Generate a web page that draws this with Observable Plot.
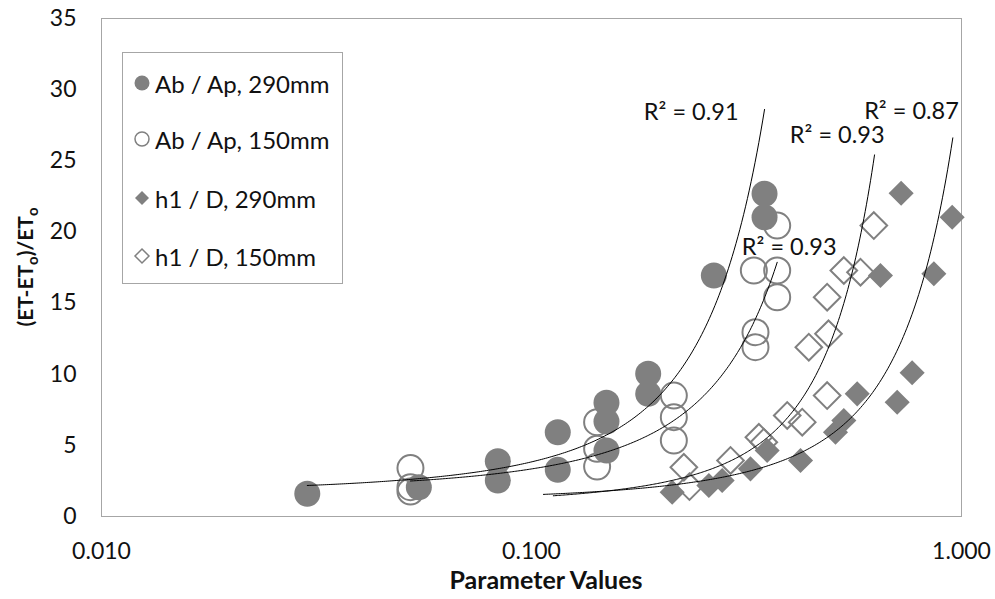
<!DOCTYPE html>
<html><head><meta charset="utf-8">
<script src="https://cdn.jsdelivr.net/npm/d3@7"></script>
<script src="https://cdn.jsdelivr.net/npm/@observablehq/plot@0.6"></script>
<style>
body{margin:0;background:#fff;font-family:Lato,sans-serif;}
#wrap{position:relative;width:995px;height:599px;overflow:hidden;}
#legend{position:absolute;left:122px;top:52px;width:221px;height:232px;border:1px solid #a6a6a6;background:#fff;box-sizing:border-box;}
.item{position:absolute;left:9px;height:30px;display:flex;align-items:center;font-size:24px;color:#111;white-space:nowrap;}
.item svg{margin-right:3px;}
</style></head><body><div id="wrap"></div>
<script>
const xTicks = [0.01, 0.1, 1];
const yTicks = [0, 5, 10, 15, 20, 25, 30, 35];
const seriesNames = ["Ab / Ap, 290mm", "Ab / Ap, 150mm", "h1 / D, 290mm", "h1 / D, 150mm"];

const abAp290X = [0.0301, 0.0547, 0.0835, 0.0835, 0.1151, 0.1151, 0.1494, 0.1494, 0.1494, 0.1868, 0.1868, 0.2655, 0.3483, 0.3483];
const abAp290Y = [1.60, 2.06, 3.89, 2.53, 5.92, 3.28, 7.99, 6.68, 4.64, 10.03, 8.62, 16.94, 22.68, 21.03];

const abAp150X = [0.0523, 0.0523, 0.0523, 0.1421, 0.1421, 0.1421, 0.2143, 0.2143, 0.2143, 0.3289, 0.3318, 0.3318, 0.3727, 0.3727, 0.3727];
const abAp150Y = [3.40, 2.06, 1.75, 6.63, 4.76, 3.51, 8.50, 6.98, 5.34, 17.29, 12.95, 11.90, 20.45, 17.29, 15.41];

const h1D290X = [0.2124, 0.2585, 0.2776, 0.3230, 0.3532, 0.4223, 0.5093, 0.5325, 0.5721, 0.6479, 0.7087, 0.7238, 0.7677, 0.8624, 0.9513];
const h1D290Y = [1.70, 2.18, 2.53, 3.35, 4.64, 3.94, 5.92, 6.75, 8.62, 16.94, 8.03, 22.72, 10.10, 17.06, 21.03];

const h1D150X = [0.2261, 0.2330, 0.2903, 0.3379, 0.3469, 0.3933, 0.4262, 0.4415, 0.4870, 0.4906, 0.4870, 0.5325, 0.5822, 0.6253];
const h1D150Y = [3.46, 2.10, 3.94, 5.57, 5.22, 7.10, 6.63, 11.90, 8.50, 12.84, 15.41, 17.29, 17.17, 20.45];

// exponential trendlines y = a * exp(b * x)
const trendA = [1.709, 1.808, 0.78, 1.087];
const trendB = [8.09, 6.146, 5.55, 3.35];
const trendFrom = [0.0301, 0.0523, 0.1124, 0.1066];
const trendTo = [0.3483, 0.3727, 0.6277, 0.9546];
const trendR2 = ["0.91", "0.93", "0.93", "0.87"];

const gray = "#808080";
const build = (xs, ys) => xs.map((x, i) => ({x, y: ys[i]}));
const dFilledC = build(abAp290X, abAp290Y);
const dOpenC = build(abAp150X, abAp150Y);
const dFilledD = build(h1D290X, h1D290Y);
const dOpenD = build(h1D150X, h1D150Y);

const trendRows = [];
const trendEnds = [];
trendA.forEach((a, k) => {
  const n = 240, l0 = Math.log10(trendFrom[k]), l1 = Math.log10(trendTo[k]);
  for (let i = 0; i <= n; i++) {
    const x = Math.pow(10, l0 + (l1 - l0) * i / n);
    trendRows.push({id: k, x, y: a * Math.exp(trendB[k] * x)});
  }
  trendEnds.push({x: trendTo[k], y: a * Math.exp(trendB[k] * trendTo[k]), label: "R² = " + trendR2[k]});
});

const labelStyle = [
  {textAnchor: "end", dx: -26, dy: 3},
  {textAnchor: "middle", dx: 12, dy: -15},
  {textAnchor: "end", dx: 10, dy: -19},
  {textAnchor: "end", dx: 6, dy: -26}
];
const labelMarks = trendEnds.map((e, k) => Plot.text([e], {x: "x", y: "y", text: "label", fill: "#111", fontSize: 23.5, ...labelStyle[k]}));

const fmt = d3.format(".3f");
const fig = Plot.plot({
  width: 995, height: 599,
  marginLeft: 101, marginRight: 34, marginTop: 18, marginBottom: 83,
  style: {fontFamily: "Lato, sans-serif", fontSize: "23px", color: "#111", background: "#fff"},
  x: {type: "log", domain: [0.01, 1]},
  y: {domain: [0, 35]},
  marks: [
    Plot.frame({stroke: "#a6a6a6"}),
    Plot.axisX({ticks: xTicks, tickFormat: fmt, tickSize: 0, tickPadding: 26, label: null}),
    Plot.axisY({ticks: yTicks, tickSize: 0, tickPadding: 25, label: null}),
    Plot.dot(dOpenC, {x: "x", y: "y", r: 13, stroke: gray, strokeWidth: 2, fill: "none"}),
    Plot.dot(dFilledC, {x: "x", y: "y", r: 13, fill: gray}),
    Plot.dot(dOpenD, {x: "x", y: "y", r: 12, symbol: "diamond2", stroke: gray, strokeWidth: 2, fill: "none"}),
    Plot.dot(dFilledD, {x: "x", y: "y", r: 11.3, symbol: "diamond2", fill: gray}),
    Plot.line(trendRows, {x: "x", y: "y", z: "id", stroke: "#000", strokeWidth: 1}),
    ...labelMarks
  ]
});

const svg = d3.select(fig);
const xs = fig.scale("x"), ys = fig.scale("y");
const cx = (xs.apply(0.01) + xs.apply(1)) / 2 + 15;
svg.append("text").attr("x", cx).attr("y", 580).attr("dy", "0.35em")
  .attr("text-anchor", "middle").attr("font-weight", "bold").attr("font-size", 25).attr("fill", "#111")
  .text("Parameter Values");
const cy = (ys.apply(0) + ys.apply(35)) / 2;
const yl = svg.append("text").attr("transform", `translate(26,${cy}) rotate(-90)`)
  .attr("text-anchor", "middle").attr("dy", "0.35em").attr("font-weight", "bold").attr("font-size", 21).attr("fill", "#111");
yl.append("tspan").text("(ET-ET");
yl.append("tspan").attr("font-size", 15).attr("dy", 5).text("o");
yl.append("tspan").attr("dy", -5).text(")/ET");
yl.append("tspan").attr("font-size", 15).attr("dy", 5).text("o");

const wrap = document.getElementById("wrap");
wrap.appendChild(fig);

const legend = document.createElement("div");
legend.id = "legend";
const rowTops = [15, 71, 130, 188];
const markerSvg = (k) => {
  const fillOn = k === 0 || k === 2;
  const shape = (k < 2)
    ? `<circle cx="10" cy="10" r="${fillOn ? 7.5 : 7}" fill="${fillOn ? gray : "none"}" stroke="${fillOn ? "none" : gray}" stroke-width="1.5"/>`
    : `<path d="M10 3 L17 10 L10 17 L3 10 Z" fill="${fillOn ? gray : "none"}" stroke="${fillOn ? "none" : gray}" stroke-width="1.5"/>`;
  return `<svg width="20" height="20" viewBox="0 0 20 20">${shape}</svg>`;
};
seriesNames.forEach((name, k) => {
  const it = document.createElement("div");
  it.className = "item";
  it.style.top = rowTops[k] + "px";
  it.innerHTML = markerSvg(k) + `<span>${name}</span>`;
  legend.appendChild(it);
});
wrap.appendChild(legend);
</script>
</body></html>
